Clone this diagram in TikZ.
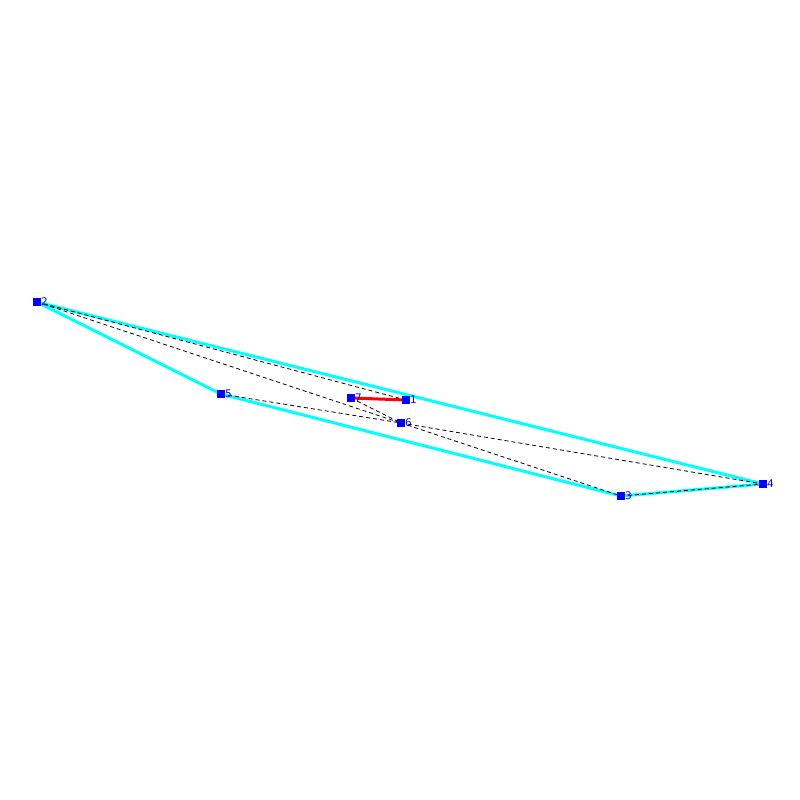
\documentclass[tikz,border=0pt]{standalone}
\usepackage{fontspec}
\setmainfont{DejaVu Sans}
\definecolor{hullcyan}{RGB}{0,255,255}
\definecolor{ptblue}{RGB}{0,0,255}
\definecolor{conred}{RGB}{255,0,0}
\begin{document}
\begin{tikzpicture}[x=1pt,y=-1pt,
  pt/.style={fill=ptblue, minimum size=8pt, inner sep=0pt, outer sep=0pt},
  lab/.style={text=ptblue, font=\fontsize{10.5}{10.5}\selectfont, inner sep=0pt, anchor=west},
  hull/.style={hullcyan, line width=3pt, line join=round},
  tri/.style={black, line width=0.8pt, dash pattern=on 4pt off 3pt},
  con/.style={conred, line width=3pt}]
\useasboundingbox (0,0) rectangle (800,800);
\coordinate (p1) at (406,400);
\coordinate (p2) at (37,302);
\coordinate (p3) at (621,496);
\coordinate (p4) at (763,484);
\coordinate (p5) at (221,394);
\coordinate (p6) at (401,423);
\coordinate (p7) at (351,398);
\draw[hull] (p2) -- (p4) -- (p3) -- (p5) -- cycle;
\draw[tri] (p2) -- (p1);
\draw[tri] (p2) -- (p6);
\draw[tri] (p5) -- (p6);
\draw[tri] (p7) -- (p6);
\draw[tri] (p6) -- (p3);
\draw[tri] (p6) -- (p4);
\draw[tri] (p3) -- (p4);
\draw[con] (p7) -- (p1);
\foreach \n in {1,...,7}{
  \node[pt] (n\n) at (p\n) {};
  \node[lab] (l\n) at ([xshift=4pt]p\n) {\n};
}
\end{tikzpicture}
\end{document}
